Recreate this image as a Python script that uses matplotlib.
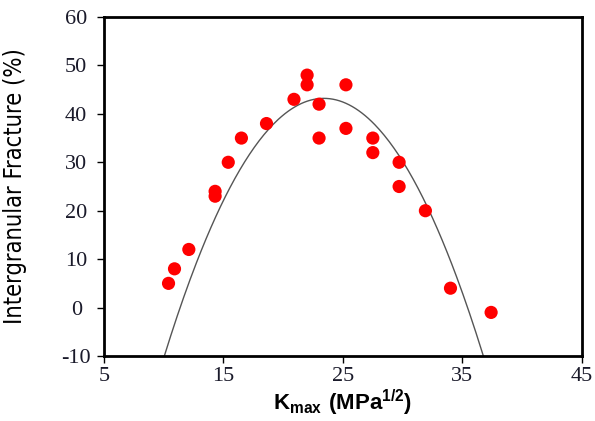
import numpy as np
import matplotlib.pyplot as plt

plt.rcParams['mathtext.fontset'] = 'custom'
plt.rcParams['mathtext.rm'] = 'Liberation Sans:bold'
plt.rcParams['mathtext.bf'] = 'Liberation Sans:bold'
plt.rcParams['axes.unicode_minus'] = False

# 数据点 (K_max, 沿晶断裂百分比)
k_max = [10.4, 10.9, 12.1, 14.3, 14.3, 15.4, 16.5, 18.6, 20.9, 22.0, 22.0,
         23.0, 23.0, 25.25, 25.25, 27.5, 27.5, 29.7, 29.7, 31.9, 34.0, 37.4]
frac = [5, 8, 12, 24, 23, 30, 35, 38, 43, 48, 46,
        42, 35, 46, 37, 35, 32, 30, 25, 20, 4, -1]

# 二次拟合曲线 (顶点形式): y = peak - a*(x - x0)^2
fit_peak = 43.2
fit_x0 = 23.4
fit_a = 0.2985
fit_range = [10.05, 36.8]

xticks = [5, 15, 25, 35, 45]
yticks = [-10, 0, 10, 20, 30, 40, 50, 60]

fig = plt.figure(figsize=(5.95, 4.21), dpi=100)
ax = fig.add_axes([0.1748, 0.1544, 0.978 - 0.1748, 0.9596 - 0.1544])

xf = np.linspace(fit_range[0], fit_range[1], 200)
yf = fit_peak - fit_a * (xf - fit_x0) ** 2
ax.plot(xf, yf, color='#555555', lw=1.0, zorder=2)
ax.scatter(k_max, frac, s=90, color='#ff0000', edgecolors='none', zorder=3)

ax.set_xlim(5, 45)
ax.set_ylim(-10, 60)
ax.set_xticks(xticks)
ax.set_yticks(yticks)
for s in ax.spines.values():
    s.set_linewidth(2.0)
    s.set_color('black')
ax.tick_params(direction='out', length=5, width=1.0, colors='black',
               labelcolor='#1a1a2a', labelsize=16)
ax.tick_params(axis='y', pad=15)
ax.tick_params(axis='x', pad=3)
for lab in ax.get_xticklabels() + ax.get_yticklabels():
    lab.set_fontfamily('Liberation Serif')
for lab in ax.get_yticklabels():
    lab.set_horizontalalignment('center')

ax.set_ylabel('Intergranular Fracture (%)', fontsize=17,
              family='DejaVu Sans', fontstretch='condensed')
ax.yaxis.set_label_coords(-0.161, 0.5)
ax.set_xlabel(r'$\mathbf{K_{max}\ (MPa^{1/2})}$', fontsize=16, labelpad=1)

fig.savefig('out.png', dpi=100)
